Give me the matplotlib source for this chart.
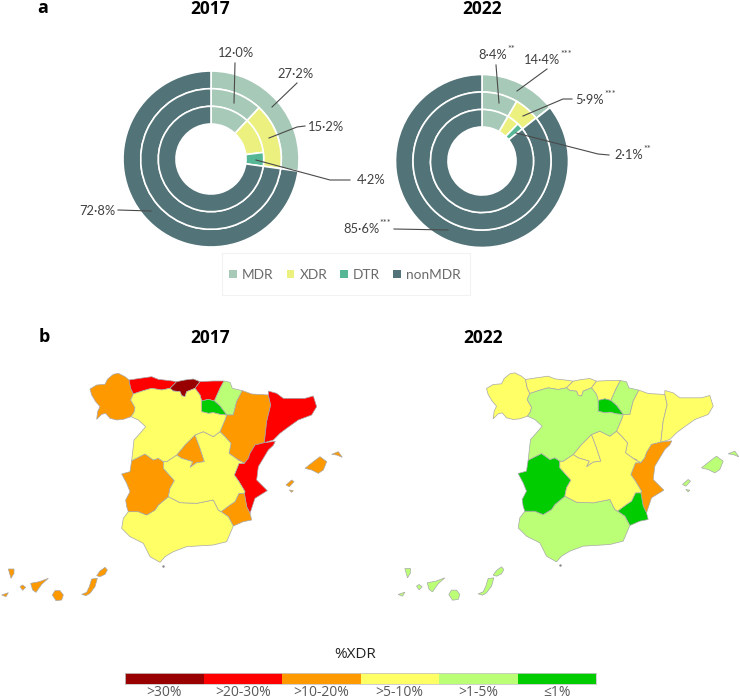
import matplotlib
matplotlib.use('Agg')
import matplotlib.pyplot as plt
from matplotlib.patches import Patch, Rectangle

plt.rcParams['font.family'] = ['Open Sans', 'DejaVu Sans']

W, H = 740, 699

# panel a: share of isolates per ring, outer ring first
resist_names = ['MDR', 'XDR', 'DTR', 'nonMDR']
resist_colors = ['#A7C9B8', '#EBF07F', '#55B795', '#527378']
rings_2017 = [[27.2, 0, 0, 72.8], [12.0, 15.2, 0, 72.8], [12.0, 11.0, 4.2, 72.8]]
rings_2022 = [[14.4, 0, 0, 85.6], [8.4, 5.9, 0, 85.6], [8.4, 3.8, 2.1, 85.6]]

# panel b: class of %XDR per region
xdr_classes = ['>30%', '>20-30%', '>10-20%', '>5-10%', '>1-5%', '≤1%']
xdr_colors = ['#990000', '#FF0000', '#FF9900', '#FFFF66', '#BBFF77', '#00CC00']
regions = ['Galicia', 'Asturias', 'Cantabria', 'Basque', 'Navarra', 'Rioja', 'Aragon',
           'Catalonia', 'Valencia', 'Murcia', 'Andalucia', 'Extremadura', 'Madrid',
           'CLM', 'CyL', 'Baleares', 'Canarias']
class_2017 = [2, 1, 0, 1, 4, 5, 2, 1, 1, 2, 3, 2, 2, 3, 3, 2, 2]
class_2022 = [3, 3, 3, 3, 4, 5, 3, 3, 2, 5, 4, 5, 3, 3, 4, 4, 4]

# region outlines
outlines = {
    'Galicia': [[(323, 177), (340, 163), (355, 160), (375, 170), (387, 180), (392, 205), (400, 222), (392, 240),
                 (405, 263), (402, 277), (393, 290), (370, 298), (350, 300), (330, 295), (317, 280), (305, 283),
                 (290, 298), (293, 275), (300, 260), (287, 245), (275, 225), (270, 207), (290, 195), (315, 193)]],
    'Asturias': [[(387, 180), (420, 175), (455, 170), (475, 178), (510, 182), (530, 185), (510, 205), (485, 210),
                  (455, 205), (430, 212), (400, 222), (392, 205)]],
    'Cantabria': [[(530, 185), (555, 180), (580, 177), (600, 185), (585, 205), (560, 215), (555, 230), (545, 227),
                   (540, 215), (520, 213), (510, 205)]],
    'Basque': [[(600, 185), (640, 183), (672, 183), (660, 205), (643, 243), (625, 238), (605, 243), (600, 225),
                (585, 205)]],
    'Navarra': [[(672, 183), (690, 187), (697, 205), (727, 212), (710, 245), (700, 285), (680, 285), (660, 258),
                 (643, 243), (660, 205)]],
    'Rioja': [[(605, 243), (625, 238), (643, 243), (660, 258), (680, 285), (660, 283), (640, 278), (625, 280),
               (605, 275)]],
    'Aragon': [[(727, 212), (755, 222), (805, 225), (812, 255), (800, 305), (793, 368), (765, 375), (750, 400),
                (745, 415), (733, 430), (715, 420), (687, 400), (693, 370), (675, 350), (660, 335), (675, 300),
                (680, 285), (700, 285), (710, 245)]],
    'Catalonia': [[(805, 213), (830, 220), (850, 235), (880, 235), (915, 235), (940, 228), (950, 260), (935, 285),
                   (895, 300), (860, 325), (840, 340), (820, 360), (793, 368), (800, 305), (812, 255), (805, 225)]],
    'Valencia': [[(793, 368), (826, 364), (820, 376), (805, 390), (775, 440), (770, 480), (802, 512), (765, 535),
                  (750, 580), (740, 560), (733, 520), (735, 515), (717, 485), (703, 465), (717, 430), (733, 430),
                  (745, 415), (750, 400), (765, 375)],
                 [(703, 415), (720, 420), (720, 428), (707, 425)]],
    'Murcia': [[(705, 545), (717, 520), (733, 520), (740, 560), (750, 580), (755, 600), (730, 605), (700, 618),
                (685, 590), (663, 575), (690, 555)]],
    'Andalucia': [[(505, 530), (540, 548), (590, 550), (640, 540), (655, 570), (663, 575), (685, 590), (700, 618),
                   (680, 665), (640, 675), (560, 680), (520, 695), (495, 710), (480, 727), (450, 710), (430, 670),
                   (390, 650), (365, 625), (370, 595), (385, 575), (415, 575), (440, 585), (465, 570), (475, 555)]],
    'Extremadura': [[(395, 422), (435, 402), (460, 420), (475, 415), (490, 425), (490, 445), (523, 482), (510, 505),
                     (505, 530), (475, 555), (465, 570), (440, 585), (415, 575), (385, 575), (380, 560), (377, 540),
                     (390, 515), (380, 490), (365, 462), (390, 455)]],
    'Madrid': [[(585, 345), (600, 385), (613, 425), (590, 428), (570, 442), (578, 425), (545, 415), (530, 405),
                (555, 375), (565, 365)]],
    'CLM': [[(490, 425), (500, 425), (530, 405), (545, 415), (578, 425), (570, 442), (590, 428), (613, 425),
             (600, 385), (585, 345), (610, 335), (640, 350), (660, 335), (675, 350), (693, 370), (687, 400),
             (715, 420), (733, 430), (717, 430), (703, 465), (717, 485), (735, 515), (733, 520), (717, 520),
             (705, 545), (690, 555), (663, 575), (655, 570), (640, 540), (590, 550), (540, 548), (505, 530),
             (510, 505), (523, 482), (490, 445)]],
    'CyL': [[(392, 240), (400, 222), (430, 212), (455, 205), (485, 210), (510, 205), (520, 213), (540, 215),
             (545, 227), (555, 230), (560, 215), (585, 205), (600, 225), (605, 243), (605, 275), (625, 280),
             (640, 278), (660, 283), (680, 285), (675, 300), (660, 335), (640, 350), (610, 335), (585, 345),
             (565, 365), (555, 375), (530, 405), (500, 425), (490, 425), (475, 415), (460, 420), (435, 402),
             (395, 422), (402, 360), (420, 340), (437, 320), (415, 300), (393, 290), (402, 277), (405, 263)]],
    'Baleares': [[(915, 445), (940, 425), (960, 410), (980, 425), (970, 450), (955, 460), (935, 450)],
                 [(995, 403), (1015, 395), (1027, 412), (1010, 405)],
                 [(858, 495), (875, 480), (882, 485), (868, 500)],
                 [(868, 510), (880, 512), (875, 517)]],
    'Canarias': [[(5, 825), (25, 818), (18, 830)],
                 [(60, 800), (68, 795), (77, 802), (68, 811)],
                 [(25, 747), (42, 747), (42, 760), (33, 775)],
                 [(92, 790), (118, 785), (145, 775), (125, 793), (108, 817), (98, 810)],
                 [(157, 825), (165, 812), (180, 812), (190, 825), (185, 840), (168, 842)],
                 [(245, 823), (260, 817), (268, 800), (275, 777), (292, 775), (285, 800), (270, 820), (258, 827)],
                 [(290, 767), (300, 753), (315, 742), (322, 750), (315, 763), (300, 770)]],
}


def px_axes(fig, x0, y0, x1, y1):
    # axes from a pixel box, y counted from the top
    return fig.add_axes([x0 / W, 1 - y1 / H, (x1 - x0) / W, (y1 - y0) / H])


def donut(fig, cx, cy, radii, rings):
    ax = px_axes(fig, cx - radii[0], cy - radii[0], cx + radii[0], cy + radii[0])
    for r, vals in zip(radii, rings):
        ax.pie(vals, colors=resist_colors, radius=r, startangle=90, counterclock=False,
               wedgeprops=dict(width=radii[0] - radii[1], edgecolor='white', linewidth=1.2))
    ax.set_xlim(-radii[0], radii[0])
    ax.set_ylim(-radii[0], radii[0])
    return ax


def spain(fig, x0, y0, classes):
    ax = px_axes(fig, x0, y0, x0 + 370, y0 + 290)
    for name, c in zip(regions, classes):
        for poly in outlines[name]:
            xs, ys = zip(*poly)
            ax.fill(xs, ys, facecolor=xdr_colors[c], edgecolor='#a8a8a8', linewidth=0.5)
    ax.plot(490, 737, '.', ms=1.5, color='#888888')
    ax.set_xlim(0, 1110)
    ax.set_ylim(870, 0)
    ax.axis('off')
    return ax


fig = plt.figure(figsize=(W / 100, H / 100), dpi=100)

donut(fig, 211, 159, [88, 70.3, 52.7], rings_2017)
donut(fig, 482, 161, [86.5, 69, 51.5], rings_2022)
spain(fig, 0, 320, class_2017)
spain(fig, 396.5, 319.5, class_2022)

# colour key
key = px_axes(fig, 125, 673, 596, 684)
key.bar(range(len(xdr_classes)), [1] * len(xdr_classes), width=1, color=xdr_colors)
key.set_xlim(-0.5, 5.5)
key.set_ylim(0, 1)
key.set_yticks([])
key.set_xticks(range(len(xdr_classes)), xdr_classes, fontsize=10, color='#595959')
key.tick_params(length=0, pad=1)
for s in key.spines.values():
    s.set_color('#c8c8c8')
    s.set_linewidth(0.6)

# overlay in pixel coordinates for titles, leaders and labels
ov = fig.add_axes([0, 0, 1, 1], facecolor='none')
ov.set_xlim(0, W)
ov.set_ylim(H, 0)
ov.axis('off')

for x, y, s in [(43, 8, 'a'), (44, 337, 'b')]:
    ov.text(x, y, s, fontsize=13, fontweight='bold', ha='center', va='center', color='black')
for x, y, s in [(210, 9, '2017'), (482, 9, '2022'), (210, 338, '2017'), (483, 338, '2022')]:
    ov.text(x, y, s, fontsize=12.5, fontweight='bold', ha='center', va='center', color='black')
ov.text(355, 655, '%XDR', fontsize=11, ha='center', va='center', color='#222222')

labels = ['12·0%', '27·2%', '15·2%', '4·2%', '72·8%', '8·4%', '14·4%', '5·9%', '2·1%', '85·6%']
stars = ['', '', '', '', '', '**', '***', '***', '**', '***']
label_xy = [(236, 53), (296, 74), (326, 127), (371, 180), (97, 211),
            (493, 55), (542, 60), (590, 100), (629, 155), (361, 229)]
leaders = [[(235, 63), (234, 103)],
           [(297, 83), (272, 107)],
           [(305, 126), (297, 127), (269, 138)],
           [(350, 180), (330, 180), (256, 160)],
           [(118, 210), (151, 211)],
           [(496, 65), (499, 103)],
           [(547, 69), (517, 91)],
           [(572, 99), (563, 99), (523, 116)],
           [(609, 155), (598, 154), (516, 133)],
           [(394, 229), (448, 230)]]
for s, st, (x, y), line in zip(labels, stars, label_xy, leaders):
    t = ov.text(x, y, s, fontsize=9.3, family='Lato', ha='center', va='center', color='#404040')
    if st:
        ov.annotate(st, xy=(1, 0.95), xycoords=t, fontsize=6.5, family='Lato', ha='left', va='center',
                    color='#404040')
    xs, ys = zip(*line)
    ov.plot(xs, ys, color='#4a4a4a', lw=0.8)

# legend box of panel a
ov.add_patch(Rectangle((222, 253), 248, 42, facecolor='white', edgecolor='#f2f2f2', lw=0.8))
handles = [Patch(facecolor=c, label=n) for c, n in zip(resist_colors, resist_names)]
fig.legend(handles=handles, ncol=4, loc='center', bbox_to_anchor=(345 / W, 1 - 275 / H), frameon=False,
           prop=dict(family='Lato', size=9.8), handlelength=0.55, handleheight=0.55, handletextpad=0.4,
           columnspacing=0.95, labelcolor='#6a6a6a')

fig.savefig('out.png', dpi=100)
